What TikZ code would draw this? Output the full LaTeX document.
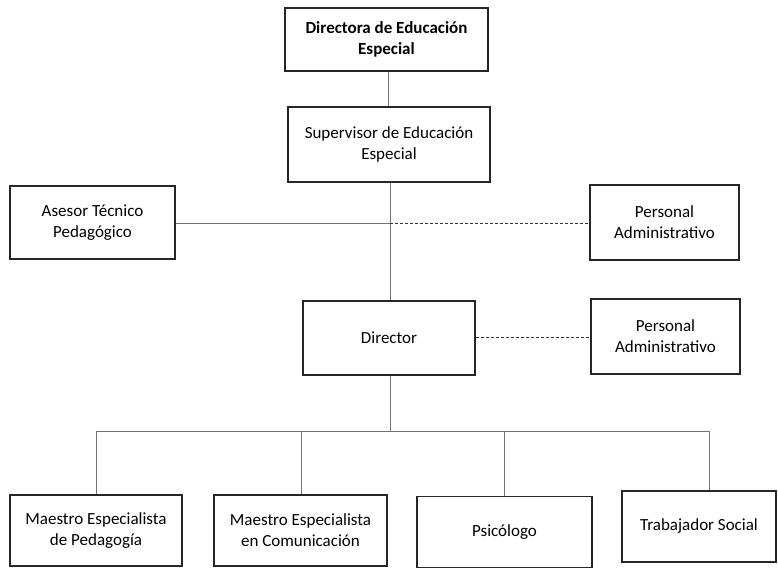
\documentclass[tikz,border=0pt]{standalone}
\usepackage{fontspec}
\setmainfont{Carlito}
\begin{document}
\begin{tikzpicture}[x=1pt,y=-1pt,
  box/.style={draw=black!85, line width=1.6pt, align=center, inner sep=2pt,
    font=\fontsize{17}{21}\selectfont},
  conn/.style={draw=black!55, line width=0.9pt},
  dconn/.style={draw=black!80, line width=1pt, dash pattern=on 3pt off 2pt}]
\useasboundingbox (0,0) rectangle (778,567);
\node[box, font=\fontsize{17}{21}\selectfont\bfseries, minimum width=203pt, minimum height=63pt] (dir) at (386.5,39.5) {Directora de Educación\\Especial};
\node[box, minimum width=202pt, minimum height=75pt] (sup) at (389,144.5) {Supervisor de Educación\\Especial};
\node[box, minimum width=165pt, minimum height=73pt] (ase) at (92.5,222.5) {Asesor Técnico\\Pedagógico};
\node[box, minimum width=149pt, minimum height=75pt] (pa1) at (664.5,222.5) {Personal\\Administrativo};
\node[box, minimum width=172pt, minimum height=74pt] (dtr) at (389,338) {Director};
\node[box, minimum width=149pt, minimum height=75pt] (pa2) at (665.5,336.5) {Personal\\Administrativo};
\node[box, minimum width=172pt, minimum height=71pt] (mep) at (96,530.5) {Maestro Especialista\\de Pedagogía};
\node[box, minimum width=173pt, minimum height=71pt] (mec) at (300.5,530.5) {Maestro Especialista\\en Comunicación};
\node[box, minimum width=175pt, minimum height=71pt] (psi) at (504.5,532) {Psicólogo};
\node[box, minimum width=154pt, minimum height=71pt] (tra) at (699,526.5) {Trabajador Social};
\coordinate (jn) at (390,223);
\coordinate (bus) at (390,431);
\coordinate (bl) at (96,431);
\coordinate (b2) at (301,431);
\coordinate (b3) at (504,431);
\coordinate (br) at (709,431);
\draw[conn] (dir.south -| 388,0) -- (sup.north -| 388,0);
\draw[conn] (sup.south -| jn) -- (dtr.north -| jn);
\draw[conn] (ase.east |- jn) -- (jn);
\draw[dconn] (jn) -- (pa1.west |- jn);
\draw[dconn] (dtr.east |- 0,337) -- (pa2.west |- 0,337);
\draw[conn] (dtr.south -| bus) -- (bus);
\draw[conn] (bl) -- (br);
\draw[conn] (bl) -- (bl |- mep.north);
\draw[conn] (b2) -- (b2 |- mec.north);
\draw[conn] (b3) -- (b3 |- psi.north);
\draw[conn] (br) -- (br |- tra.north);
\end{tikzpicture}
\end{document}
